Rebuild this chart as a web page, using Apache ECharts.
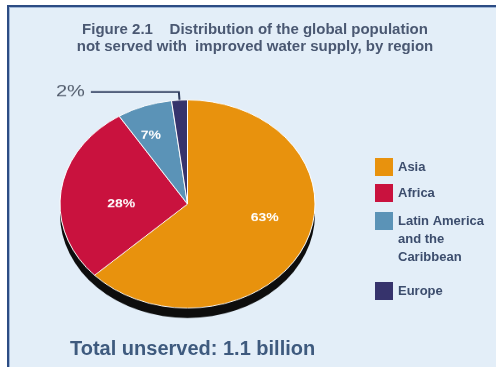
<!DOCTYPE html>
<html><head><meta charset="utf-8">
<script src="https://cdn.jsdelivr.net/npm/echarts@6/dist/echarts.min.js"></script>
<style>
html,body{margin:0;padding:0;background:#fff;width:496px;height:372px;overflow:hidden;}
#frame{position:absolute;left:7px;top:5px;width:500px;height:360px;background:#e3eef8;border-left:2px solid #2c4c84;border-top:2px solid #2c4c84;box-shadow:inset 1px 1px 0 #9fb6d6;}
#pie{position:absolute;left:0;top:0;width:496px;height:372px;transform:scaleY(0.816);transform-origin:0 204px;}
#txt{position:absolute;left:0;top:0;width:496px;height:372px;}
</style></head><body>
<div id="frame"></div><div id="pie"></div><div id="txt"></div>
<script>
// ---- data ----
const categories = ['Asia', 'Africa', 'Latin America and the Caribbean', 'Europe'];
const shares = [63, 28, 7, 2];
const legendLabels = ['Asia', 'Africa', 'Latin America\nand the\nCaribbean', 'Europe'];
const titleLines = ['Figure 2.1    Distribution of the global population', 'not served with  improved water supply, by region'];
const totalText = 'Total unserved: 1.1 billion';

// ---- styles ----
const sliceColors = ['#e8920d', '#c9123e', '#5b93b7', '#36336c'];
const FONT = "'Liberation Sans',Arial,sans-serif";
const labelShift = {0: {dx: 16, dy: -9}, 1: {dx: 0, dy: 9}, 2: {dx: -14, dy: -21}};

const pieData = categories.map((name, i) => ({name, value: shares[i], itemStyle: {color: sliceColors[i]}}));
pieData[3].label = {show: true, position: 'outside', color: '#525c6c', fontSize: 20, fontWeight: 'normal', fontFamily: FONT, distanceToLabelLine: 6};
pieData[3].labelLine = {show: true, length: 10, length2: 88, smooth: false, lineStyle: {color: '#2e3b5c', width: 2}};

const chartA = echarts.init(document.getElementById('pie'), null, {renderer: 'canvas'});
chartA.setOption({
  animation: false,
  series: [
    {type: 'pie', silent: true, center: [187.5, 216.3], radius: 127.5, z: 1,
     data: [{value: shares.reduce((a, b) => a + b, 0), itemStyle: {color: '#0d0d0d'}}],
     label: {show: false}, labelLine: {show: false}},
    {type: 'pie', z: 2, center: [187.5, 204], radius: 127.5, startAngle: 90, clockwise: true,
     avoidLabelOverlap: false, data: pieData,
     itemStyle: {borderColor: '#ffffff', borderWidth: 1},
     label: {show: true, position: 'inside', formatter: p => p.value + '%', color: '#ffffff',
             fontSize: 14, fontWeight: 'bold', fontFamily: FONT},
     labelLine: {show: false},
     labelLayout: p => labelShift[p.dataIndex] || {}}
  ]
});

const chartB = echarts.init(document.getElementById('txt'), null, {renderer: 'canvas'});
const legendTops = [158, 184, 176, 282];
// blank lines above the wrapped legend text keep its first line level with the swatch
const legendText = n => {
  const t = legendLabels[categories.indexOf(n)];
  const lines = t.split('\n').length;
  return lines > 1 ? Array(lines - 1).fill(' ').join('\n') + '\n' + t : t;
};
chartB.setOption({
  animation: false,
  title: [
    {text: titleLines.join('\n'), left: 255, top: 21, textAlign: 'center', padding: 0,
     textStyle: {fontFamily: FONT, fontSize: 15, fontWeight: 'bold', color: '#4a5872', lineHeight: 17}},
    {text: totalText, left: 70, top: 338, padding: 0,
     textStyle: {fontFamily: FONT, fontSize: 20, fontWeight: 'bold', color: '#3e5a7e', lineHeight: 22}}
  ],
  legend: categories.map((name, i) => ({
    data: [name],
    orient: 'vertical', left: 375, top: legendTops[i], padding: 0,
    itemWidth: 18, itemHeight: 18, icon: 'rect', selectedMode: false,
    formatter: legendText,
    textStyle: {fontFamily: FONT, fontSize: 13, fontWeight: 'bold', color: '#3c4d6d', lineHeight: 18}
  })),
  series: [{type: 'pie', radius: 0, center: [0, 0], silent: true,
            data: categories.map((name, i) => ({name, value: shares[i], itemStyle: {color: sliceColors[i]}})),
            label: {show: false}, labelLine: {show: false}}]
});
</script>
</body></html>
